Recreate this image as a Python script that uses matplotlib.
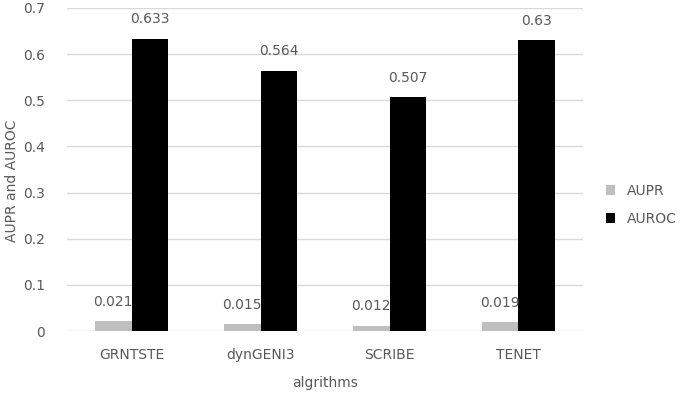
import numpy as np
import matplotlib
matplotlib.use('Agg')
import matplotlib.pyplot as plt

plt.rcParams.update({'font.family': ['DejaVu Sans'], 'font.size': 10})

algorithms = ['GRNTSTE', 'dynGENI3', 'SCRIBE', 'TENET']
aupr = [0.021, 0.015, 0.012, 0.019]
auroc = [0.633, 0.564, 0.507, 0.63]
TXT = '#595959'

fig = plt.figure(figsize=(6.85, 3.96), dpi=100)
ax = fig.add_axes([0.098, 0.164, 0.753, 0.816])
x = np.arange(len(algorithms)); w = 0.285
b1 = ax.bar(x - w/2, aupr, w, color='#bfbfbf', label='AUPR', zorder=3)
b2 = ax.bar(x + w/2, auroc, w, color='black', label='AUROC', zorder=3)
for bars, vals in ((b1, aupr), (b2, auroc)):
    for r, v in zip(bars, vals):
        ax.annotate(f'{v:g}', (r.get_x() + r.get_width()/2, v), xytext=(0, 14),
                    textcoords='offset points', ha='center', va='center', color=TXT, fontsize=10)
ax.set_xlim(-0.5, 3.5); ax.set_ylim(0, 0.7)
ax.set_yticks(np.arange(0, 0.71, 0.1))
ax.set_yticklabels(['0', '0.1', '0.2', '0.3', '0.4', '0.5', '0.6', '0.7'])
ax.set_xticks(x); ax.set_xticklabels(algorithms)
ax.yaxis.grid(True, color='#d9d9d9', lw=1, zorder=0)
for s in ax.spines.values(): s.set_visible(False)
ax.tick_params(length=0, colors=TXT, labelsize=10)
ax.tick_params(axis='y', pad=16)
ax.tick_params(axis='x', pad=12)
ax.set_xlabel('algrithms', color=TXT, fontsize=10, labelpad=10)
ax.set_ylabel('AUPR and AUROC', color=TXT, fontsize=10)
ax.yaxis.set_label_coords(-0.094, 0.465)
ax.legend(loc='center left', bbox_to_anchor=(1.02, 0.39), frameon=False, handlelength=0.7,
          handleheight=0.7, handletextpad=0.8, labelspacing=1.0, labelcolor=TXT)
fig.savefig('out.png', dpi=100)
